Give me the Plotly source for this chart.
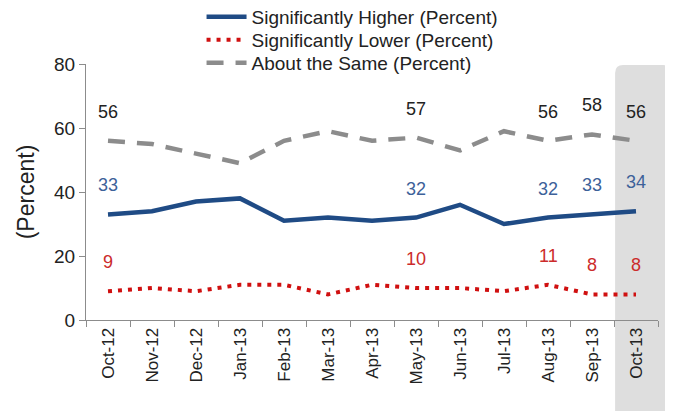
import plotly.graph_objects as go

MONTHS = ["Oct-12", "Nov-12", "Dec-12", "Jan-13", "Feb-13", "Mar-13", "Apr-13",
          "May-13", "Jun-13", "Jul-13", "Aug-13", "Sep-13", "Oct-13"]
HIGHER = [33, 34, 37, 38, 31, 32, 31, 32, 36, 30, 32, 33, 34]
LOWER = [9, 10, 9, 11, 11, 8, 11, 10, 10, 9, 11, 8, 8]
SAME = [56, 55, 52, 49, 56, 59, 56, 57, 53, 59, 56, 58, 56]
LABELED = ["Oct-12", "May-13", "Aug-13", "Sep-13", "Oct-13"]

FONT = "Liberation Sans, Arial, sans-serif"

SERIES = [
    {"name": "Significantly Higher (Percent)", "y": HIGHER, "color": "#1f4b85",
     "dash": "solid", "width": 4.5, "label_color": "#3d6199",
     "legend": "legend", "ly": 1.184},
    {"name": "Significantly Lower (Percent)", "y": LOWER, "color": "#d01010",
     "dash": "4px,6px", "width": 4, "label_color": "#cc2b2b",
     "legend": "legend2", "ly": 1.094},
    {"name": "About the Same (Percent)", "y": SAME, "color": "#8c8c8c",
     "dash": "17px,12px", "width": 4.5, "label_color": "#222222",
     "legend": "legend3", "ly": 1.004},
]

fig = go.Figure()
annotations = []
legends = {}
for s in SERIES:
    fig.add_trace(go.Scatter(
        x=MONTHS, y=s["y"], mode="lines", name=s["name"], legend=s["legend"],
        line=dict(color=s["color"], dash=s["dash"], width=s["width"]),
    ))
    legends[s["legend"]] = dict(
        x=0.202, y=s["ly"], xanchor="left", yanchor="middle",
        font=dict(size=19, color="#222222"), bgcolor="rgba(0,0,0,0)",
        itemwidth=40,
    )
    for m, v in zip(MONTHS, s["y"]):
        if m in LABELED:
            annotations.append(dict(
                x=m, y=v, text=str(v), showarrow=False, yshift=29,
                font=dict(size=18, color=s["label_color"], family=FONT),
            ))

# grey highlight box behind the latest month (paper coords, rounded top)
x0, x1, y0, y1 = 0.925, 1.023, -0.39, 0.996
rx, ry = 0.014, 0.031
path = (f"M {x0},{y0} L {x0},{y1 - ry} Q {x0},{y1} {x0 + rx},{y1} "
        f"L {x1 - rx},{y1} Q {x1},{y1} {x1},{y1 - ry} L {x1},{y0} Z")

fig.update_layout(
    width=673, height=411,
    margin=dict(l=78, r=23, t=56, b=99, autoexpand=False),
    paper_bgcolor="white", plot_bgcolor="white",
    font=dict(family=FONT, color="#222222", size=15),
    showlegend=True,
    annotations=annotations,
    shapes=[dict(type="path", path=path, xref="paper", yref="paper",
                 fillcolor="#dedede", line=dict(width=0), layer="below")],
    xaxis=dict(
        type="category", range=[-0.5, 12.5], tickangle=-90, automargin=False,
        showline=True, linecolor="#8c8c8c", linewidth=1,
        ticks="outside", ticklen=6, tickcolor="#8c8c8c", tickson="boundaries",
        showgrid=False, tickfont=dict(size=17, color="#222222"),
    ),
    yaxis=dict(
        range=[0, 80], dtick=20, showline=True, linecolor="#8c8c8c", linewidth=1,
        ticks="outside", ticklen=6, tickcolor="#8c8c8c", showgrid=False,
        zeroline=False, tickfont=dict(size=19, color="#222222"), automargin=False,
        title=dict(text="(Percent)", font=dict(size=23, color="#222222"), standoff=13),
    ),
    **legends,
)

fig.write_html("out.html")
